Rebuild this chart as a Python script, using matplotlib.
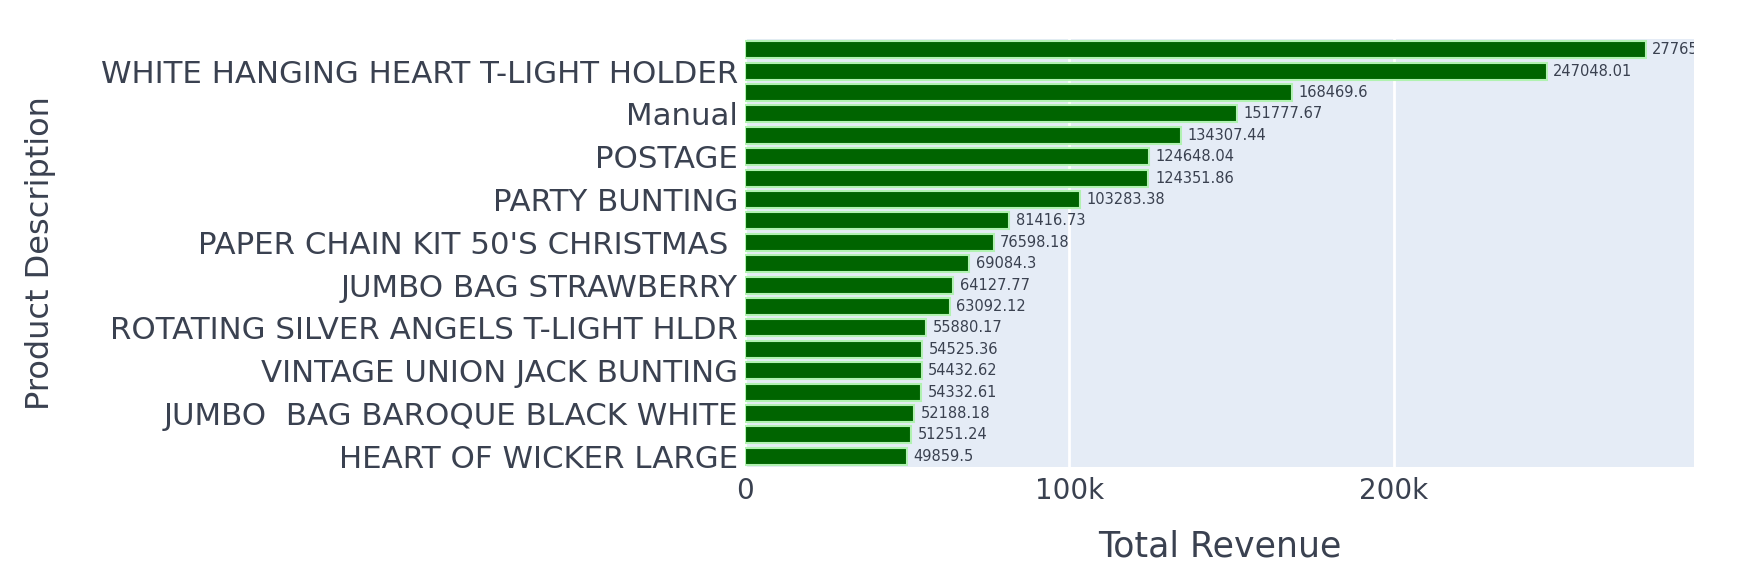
import matplotlib
matplotlib.use('Agg')
import matplotlib.pyplot as plt
import matplotlib.ticker as mticker

# top 20 products by revenue (only every second name is shown on the axis)
products = [
    "REGENCY CAKESTAND 3 TIER",
    "WHITE HANGING HEART T-LIGHT HOLDER",
    "DOTCOM POSTAGE",
    "Manual",
    "ASSORTED COLOUR BIRD ORNAMENT",
    "POSTAGE",
    "JUMBO BAG RED RETROSPOT",
    "PARTY BUNTING",
    "CHILLI LIGHTS",
    "PAPER CHAIN KIT 50'S CHRISTMAS ",
    "RABBIT NIGHT LIGHT",
    "JUMBO BAG STRAWBERRY",
    "SPOTTY BUNTING",
    "ROTATING SILVER ANGELS T-LIGHT HLDR",
    "LUNCH BAG RED RETROSPOT",
    "VINTAGE UNION JACK BUNTING",
    "BLACK RECORD COVER FRAME",
    "JUMBO  BAG BAROQUE BLACK WHITE",
    "WOOD BLACK BOARD ANT WHITE FINISH",
    "HEART OF WICKER LARGE",
]
revenue = [
    277656.25, 247048.01, 168469.6, 151777.67, 134307.44,
    124648.04, 124351.86, 103283.38, 81416.73, 76598.18,
    69084.3, 64127.77, 63092.12, 55880.17, 54525.36,
    54432.62, 54332.61, 52188.18, 51251.24, 49859.5,
]
x_ticks = [0, 100000, 200000]
x_max = 292500

text_col = '#3a4150'


def fmt_value(v):
    s = f"{v:.2f}".rstrip('0').rstrip('.')
    return s


fig = plt.figure(figsize=(17.38, 5.74), dpi=100)
ax = fig.add_axes([745 / 1738, 1 - 467 / 574, (1694 - 745) / 1738, (467 - 39) / 574])
ax.set_facecolor('#E5ECF6')

pos = list(range(len(products)))
ax.barh(pos, revenue, height=0.8, color='#006400', edgecolor='#b0f2b0', linewidth=1.5, zorder=3)

for p, v in zip(pos, revenue):
    ax.text(v + 2000, p, fmt_value(v), va='center', ha='left',
            fontsize=10.5, color=text_col, clip_on=True, zorder=4)

ax.set_ylim(len(products) - 0.5, -0.5)
ax.set_xlim(0, x_max)
ax.set_yticks(pos[1::2])
ax.set_yticklabels(products[1::2], fontsize=22.2, color=text_col)
ax.set_xticks(x_ticks)
ax.xaxis.set_major_formatter(mticker.FuncFormatter(lambda v, _: '0' if v == 0 else f"{int(v / 1000)}k"))
ax.tick_params(axis='x', labelsize=20, colors=text_col, length=0, pad=7)
ax.tick_params(axis='y', length=0, pad=5)
ax.grid(axis='x', color='white', linewidth=2, zorder=0)
for s in ax.spines.values():
    s.set_visible(False)

ax.set_xlabel("Total Revenue", fontsize=25, color=text_col, labelpad=18)
ax.set_ylabel("Product Description", fontsize=23, color=text_col)
ax.yaxis.set_label_coords(-(745 - 56) / 949, 0.5)

fig.savefig('out.png', dpi=100, facecolor='white')
